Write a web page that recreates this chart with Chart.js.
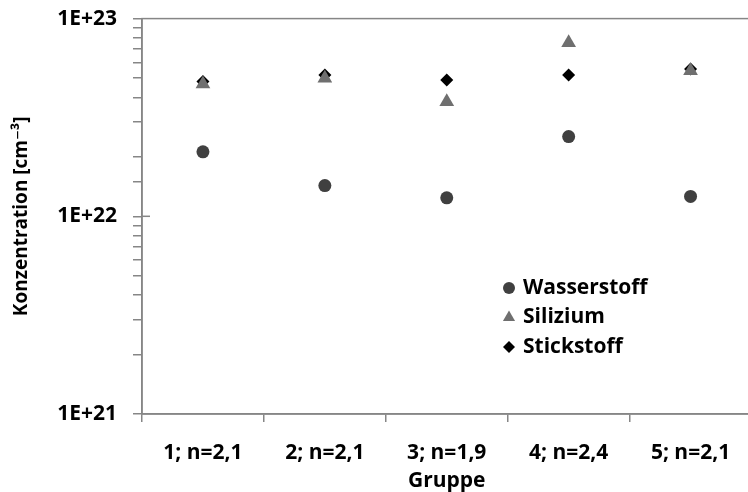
<!DOCTYPE html>
<html>
<head>
<meta charset="utf-8">
<script src="https://cdn.jsdelivr.net/npm/chart.js@4.4.1/dist/chart.umd.min.js"></script>
<style>
  html, body { margin: 0; padding: 0; overflow: hidden; background: #fff; }
  #wrap { position: relative; width: 760px; height: 502px; margin-top: -10px; }
</style>
</head>
<body>
<div id="wrap"><canvas id="myChart"></canvas></div>
<script>
var groups = ["1; n=2,1", "2; n=2,1", "3; n=1,9", "4; n=2,4", "5; n=2,1"];
var wasserstoff = [2.12e22, 1.43e22, 1.24e22, 2.53e22, 1.26e22];
var silizium = [4.67e22, 4.99e22, 3.8e22, 7.55e22, 5.45e22];
var stickstoff = [4.8e22, 5.19e22, 4.89e22, 5.19e22, 5.56e22];
var yMin = 1e21, yMax = 1e23;

var axisGray = '#868686';
var fontFam = '"Open Sans", "DejaVu Sans", sans-serif';

// plot frame and the inner part of the major y ticks
var framePlugin = {
  id: 'frame',
  afterDraw: function(chart) {
    var c = chart.ctx, a = chart.chartArea, y = chart.scales.y;
    c.save();
    c.strokeStyle = axisGray;
    c.lineWidth = 1.5;
    c.strokeRect(a.left, a.top, a.right - a.left, a.bottom - a.top);
    var py = y.getPixelForValue(1e22);
    c.beginPath();
    c.moveTo(a.left, py);
    c.lineTo(a.left + 8, py);
    c.stroke();
    c.restore();
  }
};

// legend inside the plot (canvas is shifted up 10px)
var legendPlugin = {
  id: 'innerLegend',
  afterDraw: function(chart) {
    var c = chart.ctx;
    var x0 = 509, y0 = 298, step = 29.5;
    c.save();
    chart.data.datasets.forEach(function(ds, i) {
      var yy = y0 + i * step;
      c.fillStyle = ds.backgroundColor;
      c.strokeStyle = ds.borderColor;
      Chart.helpers.drawPoint(c, {pointStyle: ds.pointStyle, radius: ds.legendRadius, borderWidth: 0}, x0, yy);
      c.fillStyle = '#000';
      c.font = 'bold 21px ' + fontFam;
      c.textBaseline = 'middle';
      c.fillText(ds.label, x0 + 14, yy);
    });
    c.restore();
  }
};

var ctx = document.getElementById("myChart").getContext("2d");
var myChart = new Chart(ctx, {
  type: 'line',
  data: {
    labels: groups,
    datasets: [{
        label: 'Wasserstoff',
        data: wasserstoff,
        showLine: false,
        pointStyle: 'circle',
        pointRadius: 6.5,
        legendRadius: 6,
        backgroundColor: '#404040',
        borderColor: '#404040',
        pointBorderWidth: 0
      },
      {
        label: 'Silizium',
        data: silizium,
        showLine: false,
        pointStyle: 'triangle',
        pointRadius: 8.5,
        legendRadius: 7,
        backgroundColor: '#6f6f6f',
        borderColor: '#6f6f6f',
        pointBorderWidth: 0
      },
      {
        label: 'Stickstoff',
        data: stickstoff,
        showLine: false,
        pointStyle: 'rectRot',
        pointRadius: 6.5,
        legendRadius: 6,
        backgroundColor: '#000',
        borderColor: '#000',
        pointBorderWidth: 0
    }]
  },
  options: {
    responsive: true,
    maintainAspectRatio: false,
    animation: false,
    layout: { padding: { top: 8, right: 3, left: 0, bottom: 0 } },
    plugins: {
      legend: { display: false },
      tooltip: { enabled: false }
    },
    scales: {
      x: {
        offset: true,
        afterFit: function(s) { s.height = 78; },
        grid: { offset: true, drawOnChartArea: false, tickLength: 8, color: axisGray, lineWidth: 1.5 },
        border: { color: axisGray, width: 1.5 },
        ticks: { color: '#000', padding: 18, maxRotation: 0, font: { family: fontFam, size: 21, weight: 'bold' } },
        title: { display: true, text: 'Gruppe', color: '#000', padding: { top: 0, bottom: 0 }, font: { family: fontFam, size: 21, weight: 'bold', lineHeight: 1 } }
      },
      y: {
        type: 'logarithmic',
        min: yMin,
        max: yMax,
        afterFit: function(s) { s.width = 142; },
        grid: { drawOnChartArea: false, tickLength: 9, color: axisGray, lineWidth: 1.5 },
        border: { color: axisGray, width: 1.5 },
        ticks: {
          autoSkip: false,
          color: '#000',
          padding: 16,
          font: { family: fontFam, size: 21, weight: 'bold' },
          callback: function(v) {
            var e = Math.log10(v);
            if (Math.abs(e - Math.round(e)) < 1e-9) return '1E+' + Math.round(e);
            return '';
          }
        },
        title: { display: true, text: 'Konzentration [cm⁻³]', color: '#000', padding: { top: 10, bottom: 0 }, font: { family: fontFam, size: 19, weight: 'bold' } }
      }
    }
  },
  plugins: [framePlugin, legendPlugin]
});
</script>
</body>
</html>
